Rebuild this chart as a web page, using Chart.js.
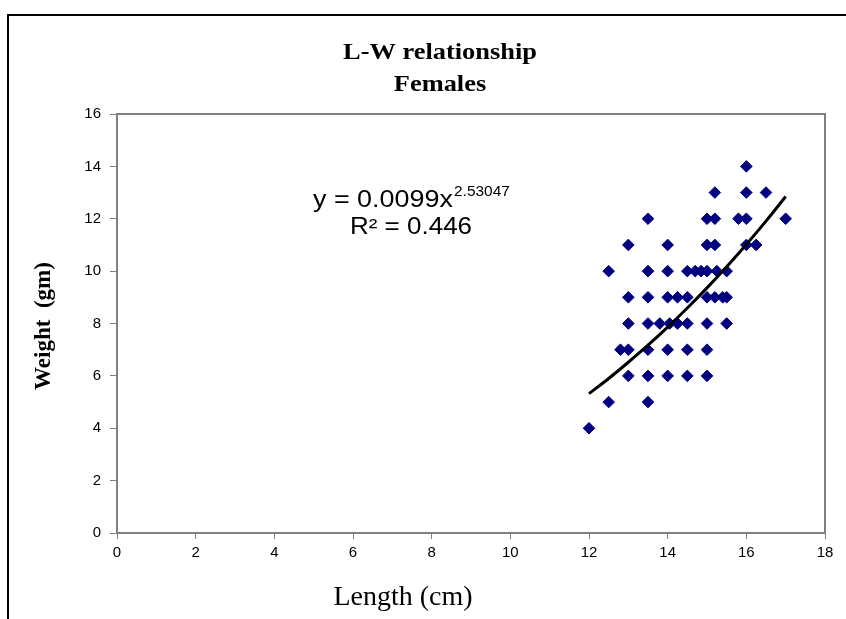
<!DOCTYPE html>
<html>
<head>
<meta charset="utf-8">
<script src="https://cdn.jsdelivr.net/npm/chart.js@4"></script>
<style>
  html, body { margin: 0; padding: 0; background: #ffffff; overflow: hidden; }
  #wrap { position: relative; width: 846px; height: 619px; }
  canvas { display: block; }
</style>
</head>
<body>
<div id="wrap"><canvas id="chart" width="846" height="619"></canvas></div>
<script>
// ---- Data ----
const lengthCm = [
  16,
  15.2, 16, 16.5,
  13.5, 15, 15.2, 15.8, 16, 17,
  13, 14, 15, 15.2, 16, 16.25,
  12.5, 13.5, 14, 14.5, 14.7, 14.85, 15, 15.25, 15.5,
  13, 13.5, 14, 14.25, 14.5, 15, 15.2, 15.4, 15.5,
  13, 13.5, 13.8, 14.05, 14.25, 14.5, 15, 15.5,
  12.8, 13, 13.5, 14, 14.5, 15,
  13, 13.5, 14, 14.5, 15,
  12.5, 13.5,
  12
];
const weightGm = [
  14,
  13, 13, 13,
  12, 12, 12, 12, 12, 12,
  11, 11, 11, 11, 11, 11,
  10, 10, 10, 10, 10, 10, 10, 10, 10,
  9, 9, 9, 9, 9, 9, 9, 9, 9,
  8, 8, 8, 8, 8, 8, 8, 8,
  7, 7, 7, 7, 7, 7,
  6, 6, 6, 6, 6,
  5, 5,
  4
];
// Power trendline as drawn in the picture (y = 0.0099x^2.53047)
const trendLength = [12, 12.5, 13, 13.5, 14, 14.5, 15, 15.5, 16, 16.5, 17];
const trendWeight = [5.32, 5.90, 6.52, 7.17, 7.86, 8.59, 9.36, 10.17, 11.02, 11.91, 12.85];

const xTicks = [0, 2, 4, 6, 8, 10, 12, 14, 16, 18];
const yTicks = [0, 2, 4, 6, 8, 10, 12, 14, 16];

const titleLines = ['L-W relationship', 'Females'];
const xTitle = 'Length (cm)';
const yTitle = 'Weight  (gm)';
const eqMain = 'y = 0.0099x';
const eqExp = '2.53047';
const eqR2 = 'R\u00B2 = 0.446';

const points = lengthCm.map((x, i) => ({ x: x, y: weightGm[i] }));
const trend = trendLength.map((x, i) => ({ x: x, y: trendWeight[i] }));

function drawText(ctx, text, x, y, font, sx, align) {
  ctx.save();
  ctx.font = font;
  ctx.fillStyle = '#000000';
  ctx.textAlign = align || 'center';
  ctx.textBaseline = 'alphabetic';
  ctx.translate(x, y);
  ctx.scale(sx, 1);
  ctx.fillText(text, 0, 0);
  ctx.restore();
}

const decorPlugin = {
  id: 'decor',
  beforeDraw(chart) {
    const ctx = chart.ctx;
    ctx.save();
    ctx.fillStyle = '#ffffff';
    ctx.fillRect(0, 0, chart.width, chart.height);
    // outer chart frame (cut off at right and bottom)
    ctx.fillStyle = '#000000';
    ctx.fillRect(7, 14, 2, chart.height - 14);
    ctx.fillRect(7, 14, chart.width - 7, 2);
    ctx.restore();
  },
  afterDraw(chart) {
    const ctx = chart.ctx;
    const a = chart.chartArea;
    ctx.save();
    ctx.strokeStyle = '#808080';
    ctx.lineWidth = 2;
    ctx.beginPath();
    ctx.moveTo(a.left, a.top);
    ctx.lineTo(a.right, a.top);
    ctx.lineTo(a.right, a.bottom);
    ctx.stroke();
    ctx.restore();

    const serifB = 'bold 24px "Liberation Serif", "Times New Roman", serif';
    drawText(ctx, titleLines[0], 440, 59, serifB, 1.1, 'center');
    drawText(ctx, titleLines[1], 440, 91, serifB, 1.1, 'center');

    drawText(ctx, xTitle, 403, 605, '28px "Liberation Serif", "Times New Roman", serif', 1.0, 'center');

    ctx.save();
    ctx.translate(50, 326);
    ctx.rotate(-Math.PI / 2);
    drawText(ctx, yTitle, 0, 0, 'bold 23px "Liberation Serif", "Times New Roman", serif', 1.0, 'center');
    ctx.restore();

    const sans = '"Liberation Sans", Arial, sans-serif';
    drawText(ctx, eqMain, 313, 207, '23px ' + sans, 1.17, 'left');
    drawText(ctx, eqExp, 454, 196, '15px ' + sans, 1.03, 'left');
    drawText(ctx, eqR2, 411, 234, '23px ' + sans, 1.13, 'center');
  }
};

const tickFont = { family: '"Liberation Sans", Arial, sans-serif', size: 15 };

new Chart(document.getElementById('chart'), {
  type: 'scatter',
  data: {
    datasets: [
      {
        type: 'line',
        label: 'Power trendline',
        data: trend,
        borderColor: '#000000',
        borderWidth: 3,
        pointRadius: 0,
        fill: false,
        cubicInterpolationMode: 'monotone'
      },
      {
        type: 'scatter',
        label: 'Females',
        data: points,
        pointStyle: 'rectRot',
        pointRadius: 5.8,
        pointBackgroundColor: '#000080',
        pointBorderColor: '#000080',
        pointBorderWidth: 1
      }
    ]
  },
  options: {
    responsive: false,
    animation: false,
    events: [],
    layout: { padding: { left: 0, right: 21, top: 114, bottom: 0 } },
    plugins: {
      legend: { display: false },
      title: { display: false },
      tooltip: { enabled: false }
    },
    scales: {
      x: {
        type: 'linear',
        min: 0, max: 18,
        afterFit(scale) { scale.height = 86; },
        afterBuildTicks(scale) { scale.ticks = xTicks.map(v => ({ value: v })); },
        ticks: { font: tickFont, color: '#000000', padding: 5 },
        grid: { display: true, drawOnChartArea: false, drawTicks: true, tickLength: 6, color: '#808080', lineWidth: 1 },
        border: { display: true, color: '#808080', width: 2 }
      },
      y: {
        type: 'linear',
        min: 0, max: 16,
        afterFit(scale) { scale.width = 117; },
        afterBuildTicks(scale) { scale.ticks = yTicks.map(v => ({ value: v })); },
        ticks: { font: tickFont, color: '#000000', padding: 9 },
        grid: { display: true, drawOnChartArea: false, drawTicks: true, tickLength: 7, color: '#808080', lineWidth: 1 },
        border: { display: true, color: '#808080', width: 2 }
      }
    }
  },
  plugins: [decorPlugin]
});
</script>
</body>
</html>
